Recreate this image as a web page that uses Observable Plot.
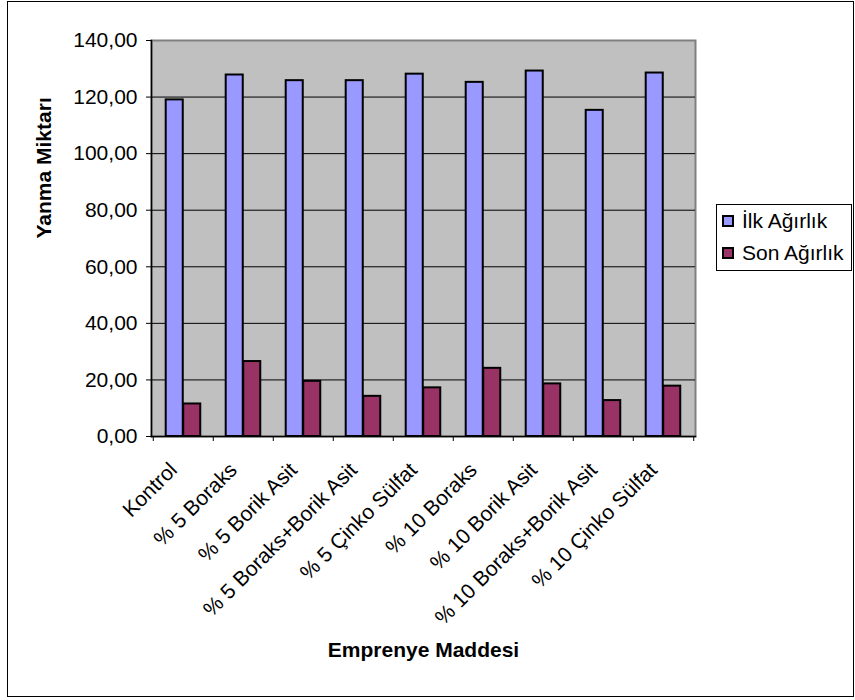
<!DOCTYPE html>
<html>
<head>
<meta charset="utf-8">
<script src="https://cdn.jsdelivr.net/npm/d3@7"></script>
<script src="https://cdn.jsdelivr.net/npm/@observablehq/plot@0.6"></script>
<style>
  html, body { margin: 0; padding: 0; background: #fff; }
  #chart { position: relative; width: 855px; height: 700px; font-family: "Liberation Sans", Arial, sans-serif; }
  #border { position: absolute; left: 7px; top: 1px; width: 845px; height: 694px; border: 1.5px solid #000; pointer-events: none; }
  #legend { position: absolute; left: 716px; top: 204px; width: 136px; height: 67px; border: 1.5px solid #000; background: #fff; box-sizing: border-box; font-size: 21px; }
  .item { position: absolute; left: 5px; display: flex; align-items: center; white-space: nowrap; }
  .sw { width: 8px; height: 8px; border: 2px solid #000; margin-right: 8px; }
  #plot { position: absolute; left: 0; top: 0; }
</style>
</head>
<body>
<div id="chart">
  <div id="plot"></div>
  <div id="border"></div>
  <div id="legend"></div>
</div>
<script>
// Treatment categories (x axis)
const categories = [
  "Kontrol",
  "% 5 Boraks",
  "% 5 Borik Asit",
  "% 5 Boraks+Borik Asit",
  "% 5 Çinko Sülfat",
  "% 10 Boraks",
  "% 10 Borik Asit",
  "% 10 Boraks+Borik Asit",
  "% 10 Çinko Sülfat"
];
// Series names
const seriesNames = ["İlk Ağırlık", "Son Ağırlık"];
// Initial weight
const ilkAgirlik = [119.0, 127.8, 125.8, 125.8, 128.1, 125.2, 129.2, 115.3, 128.5];
// Final weight
const sonAgirlik = [11.5, 26.5, 19.5, 14.2, 17.2, 24.1, 18.6, 12.7, 17.8];
// Y axis ticks
const yTicks = [0, 20, 40, 60, 80, 100, 120, 140];

const colors = ["#9999ff", "#993366"];

const rows = [];
categories.forEach((c, i) => {
  rows.push({cat: c, series: seriesNames[0], value: ilkAgirlik[i]});
  rows.push({cat: c, series: seriesNames[1], value: sonAgirlik[i]});
});

const W = 855, H = 700;
const mL = 151, mR = 160, mT = 40, mB = 264;
const band = (W - mL - mR) / categories.length;
const gap = 12.7, barW = 17.5;
const FS = 21;

const fmt = d => d.toFixed(2).replace(".", ",");

const plot = Plot.plot({
  width: W,
  height: H,
  marginLeft: mL,
  marginRight: mR,
  marginTop: mT,
  marginBottom: mB,
  style: {fontFamily: "'Liberation Sans', Arial, sans-serif", background: "transparent", color: "#000", overflow: "visible"},
  x: {domain: categories, padding: 0},
  y: {domain: [0, 140]},
  color: {domain: seriesNames, range: colors},
  marks: [
    Plot.frame({fill: "#c0c0c0", stroke: "#808080", strokeWidth: 2}),
    Plot.gridY(yTicks.filter(d => d > 0 && d < 140), {stroke: "#000", strokeOpacity: 1, strokeWidth: 1}),
    Plot.barY(rows.filter(r => r.series === seriesNames[0]), {
      x: "cat", y: "value", fill: colors[0], stroke: "#000", strokeWidth: 2,
      insetLeft: gap, insetRight: band - gap - barW
    }),
    Plot.barY(rows.filter(r => r.series === seriesNames[1]), {
      x: "cat", y: "value", fill: colors[1], stroke: "#000", strokeWidth: 2,
      insetLeft: gap + barW, insetRight: band - gap - 2 * barW
    }),
    Plot.frame({anchor: "left", stroke: "#000", strokeWidth: 1.5}),
    Plot.frame({anchor: "bottom", stroke: "#000", strokeWidth: 1.5}),
    Plot.axisY({ticks: yTicks, tickFormat: fmt, tickSize: 5, tickPadding: 9, fontSize: FS, label: null, stroke: "#000"}),
    // category boundary ticks
    Plot.axisX({ticks: categories, tickSize: 5, tickFormat: () => "", label: null, dx: -band / 2}),
    Plot.axisX({ticks: [categories[categories.length - 1]], tickSize: 5, tickFormat: () => "", label: null, dx: band / 2}),
    Plot.axisX({tickSize: 0, tickRotate: -45, tickPadding: 30, dx: -10, fontSize: FS, label: null}),
    Plot.text(["Yanma Miktarı"], {frameAnchor: "left", dx: -107, rotate: -90, text: d => d, fontSize: FS, fontWeight: "bold"}),
    Plot.text(["Emprenye Maddesi"], {frameAnchor: "bottom", dy: 220, text: d => d, fontSize: FS, fontWeight: "bold"})
  ]
});
document.getElementById("plot").appendChild(plot);

const legend = document.getElementById("legend");
seriesNames.forEach((name, i) => {
  const item = document.createElement("div");
  item.className = "item";
  item.style.top = (i === 0 ? 4 : 36) + "px";
  const sw = document.createElement("span");
  sw.className = "sw";
  sw.style.background = colors[i];
  const label = document.createElement("span");
  label.textContent = name;
  item.appendChild(sw);
  item.appendChild(label);
  legend.appendChild(item);
});
</script>
</body>
</html>
